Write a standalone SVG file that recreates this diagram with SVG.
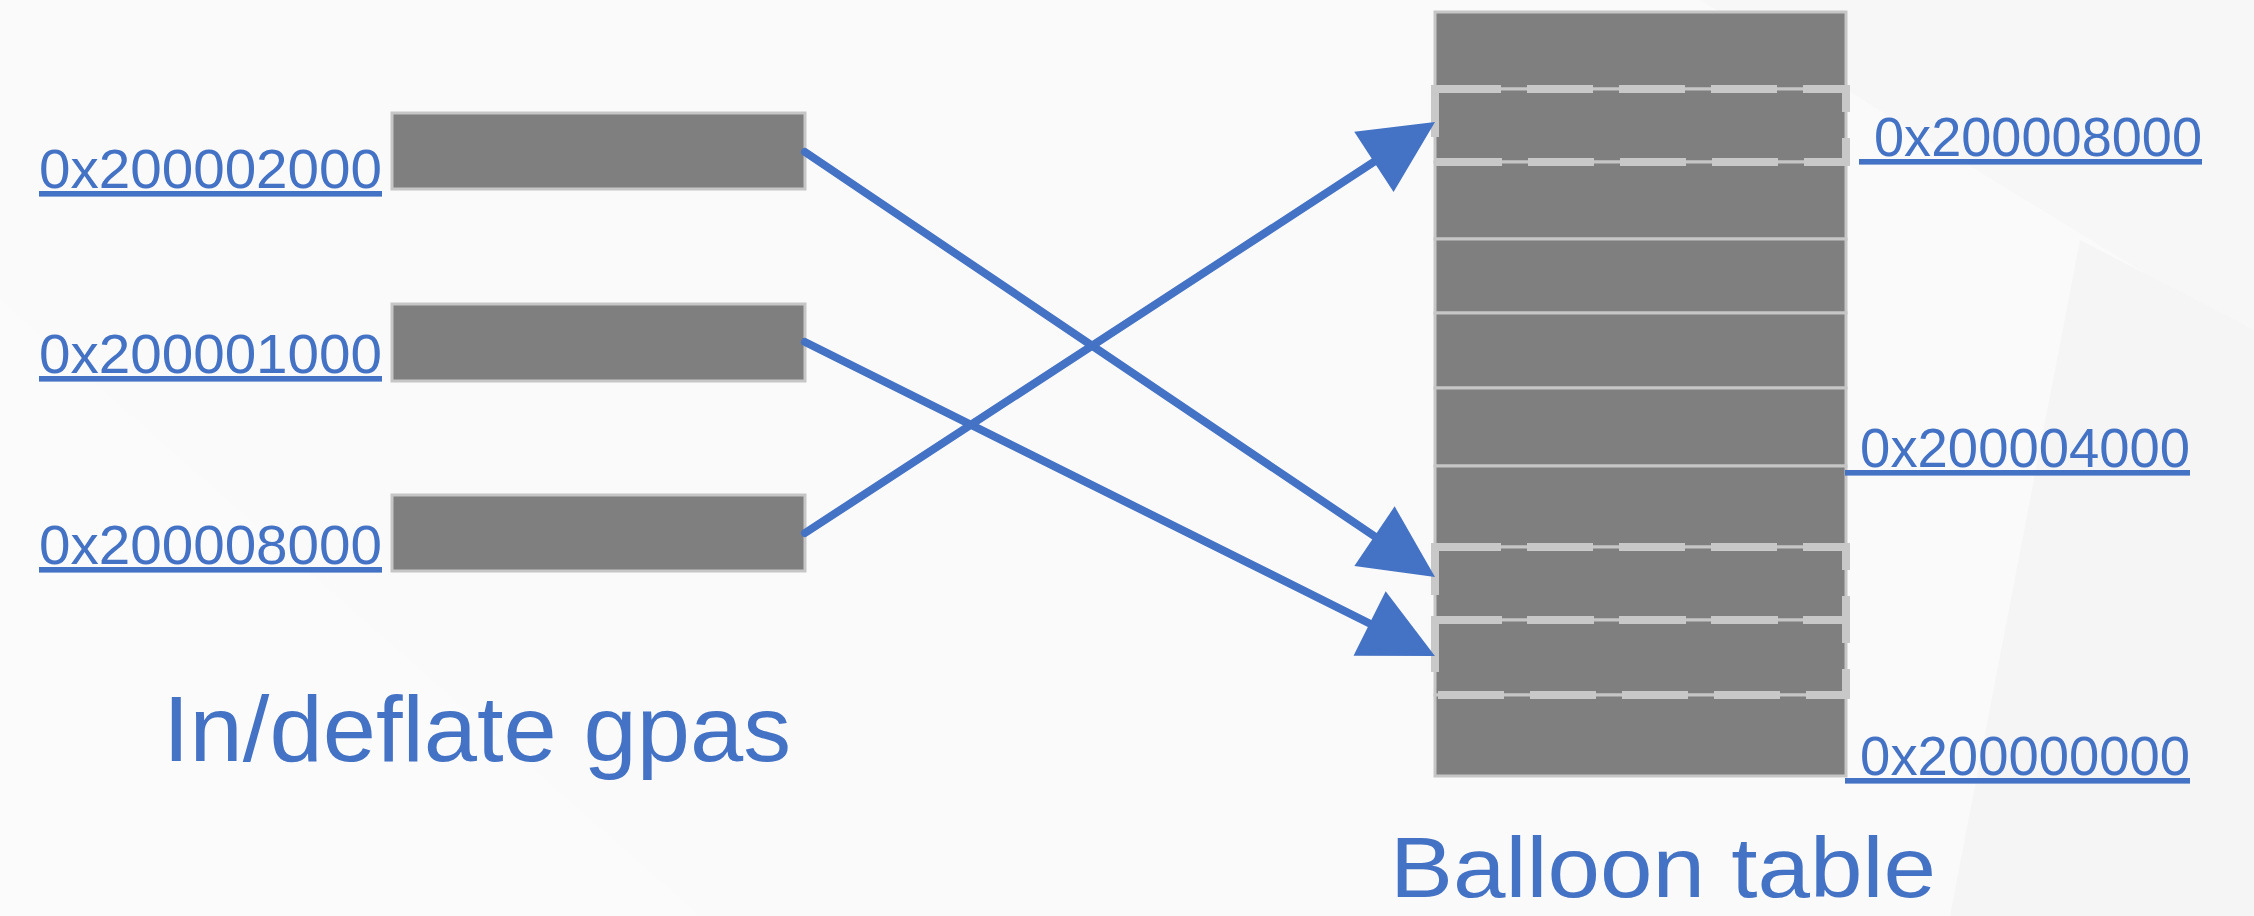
<svg xmlns="http://www.w3.org/2000/svg" width="2254" height="916" viewBox="0 0 2254 916">
  <style>
    .box { fill: #7f7f7f; stroke: #c6c6c6; stroke-width: 3; }
    .hl { fill: none; stroke: #c8c8c8; stroke-width: 8; stroke-dasharray: 66 26; }
    .lbl { font-family: "Liberation Sans", Arial, sans-serif; font-size: 56px; fill: #4472c4; text-decoration: underline; }
    .title { font-family: "Liberation Sans", Arial, sans-serif; fill: #4472c4; }
    .conn { stroke: #4472c4; stroke-width: 8; stroke-linecap: round; fill: none; marker-end: url(#head); }
  </style>
  <defs>
    <marker id="head" markerUnits="userSpaceOnUse" markerWidth="75" markerHeight="74" refX="0" refY="36" orient="auto" overflow="visible">
      <path d="M0,0 L73,36 L0,72 Z" fill="#4472c4"/>
    </marker>
  </defs>

  <!-- background -->
  <rect x="0" y="0" width="2254" height="916" fill="#fafafa"/>
  <polygon points="1700,0 2254,0 2254,340" fill="#f5f5f6" opacity="0.7"/>
  <polygon points="2080,240 2254,330 2254,916 1950,916" fill="#f4f4f5" opacity="0.8"/>
  <polygon points="0,300 700,916 0,916" fill="#fbfbfb"/>

  <!-- left nodes -->
  <g id="gpa-2000">
    <rect class="box" x="392" y="113" width="413" height="76"/>
    <text class="lbl" x="39" y="188" textLength="343" lengthAdjust="spacingAndGlyphs">0x200002000</text>
  </g>
  <g id="gpa-1000">
    <rect class="box" x="392" y="304" width="413" height="77"/>
    <text class="lbl" x="39" y="373" textLength="343" lengthAdjust="spacingAndGlyphs">0x200001000</text>
  </g>
  <g id="gpa-8000">
    <rect class="box" x="392" y="495" width="413" height="76"/>
    <text class="lbl" x="39" y="564" textLength="343" lengthAdjust="spacingAndGlyphs">0x200008000</text>
  </g>
  <g id="left-title">
    <text class="title" x="163" y="761" font-size="92" textLength="628" lengthAdjust="spacingAndGlyphs">In/deflate gpas</text>
  </g>

  <!-- balloon table -->
  <g id="balloon-table">
    <rect class="box" x="1435" y="12" width="411" height="77"/>
    <rect class="box" x="1435" y="89" width="411" height="73"/>
    <rect class="box" x="1435" y="162" width="411" height="77"/>
    <rect class="box" x="1435" y="239" width="411" height="74"/>
    <rect class="box" x="1435" y="313" width="411" height="75"/>
    <rect class="box" x="1435" y="388" width="411" height="78"/>
    <rect class="box" x="1435" y="466" width="411" height="81"/>
    <rect class="box" x="1435" y="547" width="411" height="73"/>
    <rect class="box" x="1435" y="620" width="411" height="75"/>
    <rect class="box" x="1435" y="695" width="411" height="81"/>
    <rect class="hl" x="1435" y="89" width="411" height="73"/>
    <rect class="hl" x="1435" y="547" width="411" height="73"/>
    <rect class="hl" x="1435" y="620" width="411" height="75"/>
    <text class="lbl" x="1859" y="156" textLength="343" lengthAdjust="spacingAndGlyphs" xml:space="preserve"> 0x200008000</text>
    <text class="lbl" x="1845" y="467" textLength="345" lengthAdjust="spacingAndGlyphs" xml:space="preserve"> 0x200004000</text>
    <text class="lbl" x="1845" y="775" textLength="345" lengthAdjust="spacingAndGlyphs" xml:space="preserve"> 0x200000000</text>
    <text class="title" x="1390" y="897" font-size="86" textLength="546" lengthAdjust="spacingAndGlyphs">Balloon table</text>
  </g>

  <!-- connectors -->
  <g id="connectors">
    <line class="conn" x1="805" y1="152" x2="1374.5" y2="536.2"/>
    <line class="conn" x1="805" y1="342" x2="1369.6" y2="623.5"/>
    <line class="conn" x1="805" y1="533" x2="1373.9" y2="161.9"/>
  </g>
</svg>
